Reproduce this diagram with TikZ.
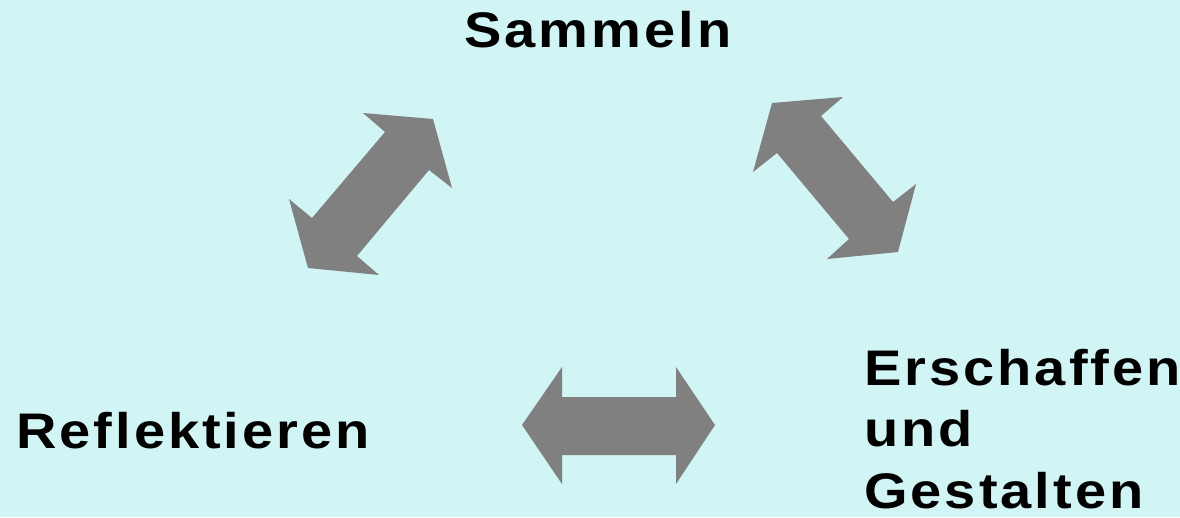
\documentclass[tikz,border=0pt]{standalone}
\usepackage{fontspec}
\setmainfont{Liberation Sans}[FakeStretch=1.12,LetterSpace=6]
\usetikzlibrary{positioning}
\definecolor{hellcyan}{RGB}{209,244,244}
\definecolor{pfeilgrau}{RGB}{128,128,128}
\tikzset{
x=0.75pt, y=-0.75pt,
wort/.style={inner sep=0pt,font=\fontsize{37.5}{46}\selectfont\bfseries,align=left},
pfeil/.style={fill=pfeilgrau,draw=none}}

\begin{document}
\begin{tikzpicture}

\fill[hellcyan] (0,0) rectangle (1180,517);
\useasboundingbox (0,0) rectangle (1180,517);

\node[wort,anchor=base west] (sam) at (464,48) {Sammeln};
\node[wort,anchor=base west] (ref) at (16,448) {Reflektieren};
\node[wort,anchor=north west] (ers) at (864,349) {Erschaffen\\und\\Gestalten};

% Doppelpfeile
\fill[pfeil] (433,119) -- (452,188) -- (429,170) -- (357,256) -- (379,275)
  -- (308,268) -- (289,199) -- (312,218) -- (385,132) -- (363,113) -- cycle;
\fill[pfeil] (772,103) -- (843,97) -- (821,116) -- (893,202) -- (916,184)
  -- (898,252) -- (827,259) -- (849,239) -- (777,153) -- (753,172) -- cycle;
\fill[pfeil] (522,425) -- (562,367) -- (562,397) -- (676,397) -- (676,367)
  -- (715,425) -- (676,484) -- (676,455) -- (562,455) -- (562,484) -- cycle;

\end{tikzpicture}
\end{document}
